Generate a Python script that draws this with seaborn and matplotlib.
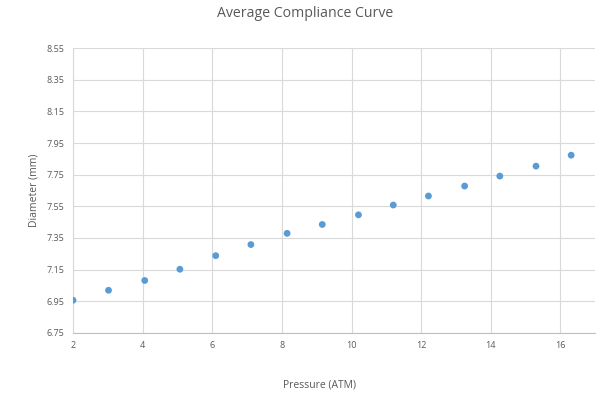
import numpy as np
import pandas as pd
import seaborn as sns
import matplotlib.pyplot as plt

# 資料
pressure = [2.0, 3.02, 4.06, 5.07, 6.10, 7.11, 8.15, 9.16, 10.20, 11.20,
            12.21, 13.25, 14.26, 15.30, 16.31]
diameter = [6.956, 7.019, 7.081, 7.152, 7.238, 7.308, 7.379, 7.435, 7.496,
            7.558, 7.615, 7.678, 7.741, 7.804, 7.873]
x_ticks = [2, 4, 6, 8, 10, 12, 14, 16]
y_ticks = [6.75, 6.95, 7.15, 7.35, 7.55, 7.75, 7.95, 8.15, 8.35, 8.55]

df = pd.DataFrame({'Pressure': pressure, 'Diameter': diameter})

sns.set_style('white')
plt.rcParams['font.family'] = ['Open Sans', 'DejaVu Sans']
text_color = '#595959'
grid_color = '#D9D9D9'

fig = plt.figure(figsize=(6.1, 4.01), dpi=100)
ax = fig.add_axes([0.1197, 0.170, 0.856, 0.710])

sns.scatterplot(data=df, x='Pressure', y='Diameter', color='#5B9BD5',
                s=24, edgecolor='none', ax=ax, zorder=3)

ax.set_xlim(2, 17)
ax.set_ylim(6.75, 8.55)
ax.set_xticks(x_ticks)
ax.set_xticklabels([str(t) for t in x_ticks])
ax.set_yticks(y_ticks)
ax.set_yticklabels([f'{t:.2f}' for t in y_ticks])
ax.tick_params(axis='both', length=0, labelsize=6.5, colors=text_color, pad=6)

ax.grid(True, color=grid_color, linewidth=0.8)
ax.set_axisbelow(True)
for s in ['top', 'right']:
    ax.spines[s].set_visible(False)
ax.spines['left'].set_color(grid_color)
ax.spines['bottom'].set_color('#BFBFBF')
ax.spines['left'].set_linewidth(0.8)
ax.spines['bottom'].set_linewidth(0.8)

ax.set_xlabel('Pressure (ATM)', fontsize=7.5, color=text_color, labelpad=20)
ax.xaxis.set_label_coords(0.473, -0.165)
ax.set_ylabel('Diameter (mm)', fontsize=7.5, color=text_color, labelpad=5)
fig.suptitle('Average Compliance Curve', fontsize=10.2, color=text_color, y=0.985)

plt.savefig('out.png', dpi=100)
plt.close()
